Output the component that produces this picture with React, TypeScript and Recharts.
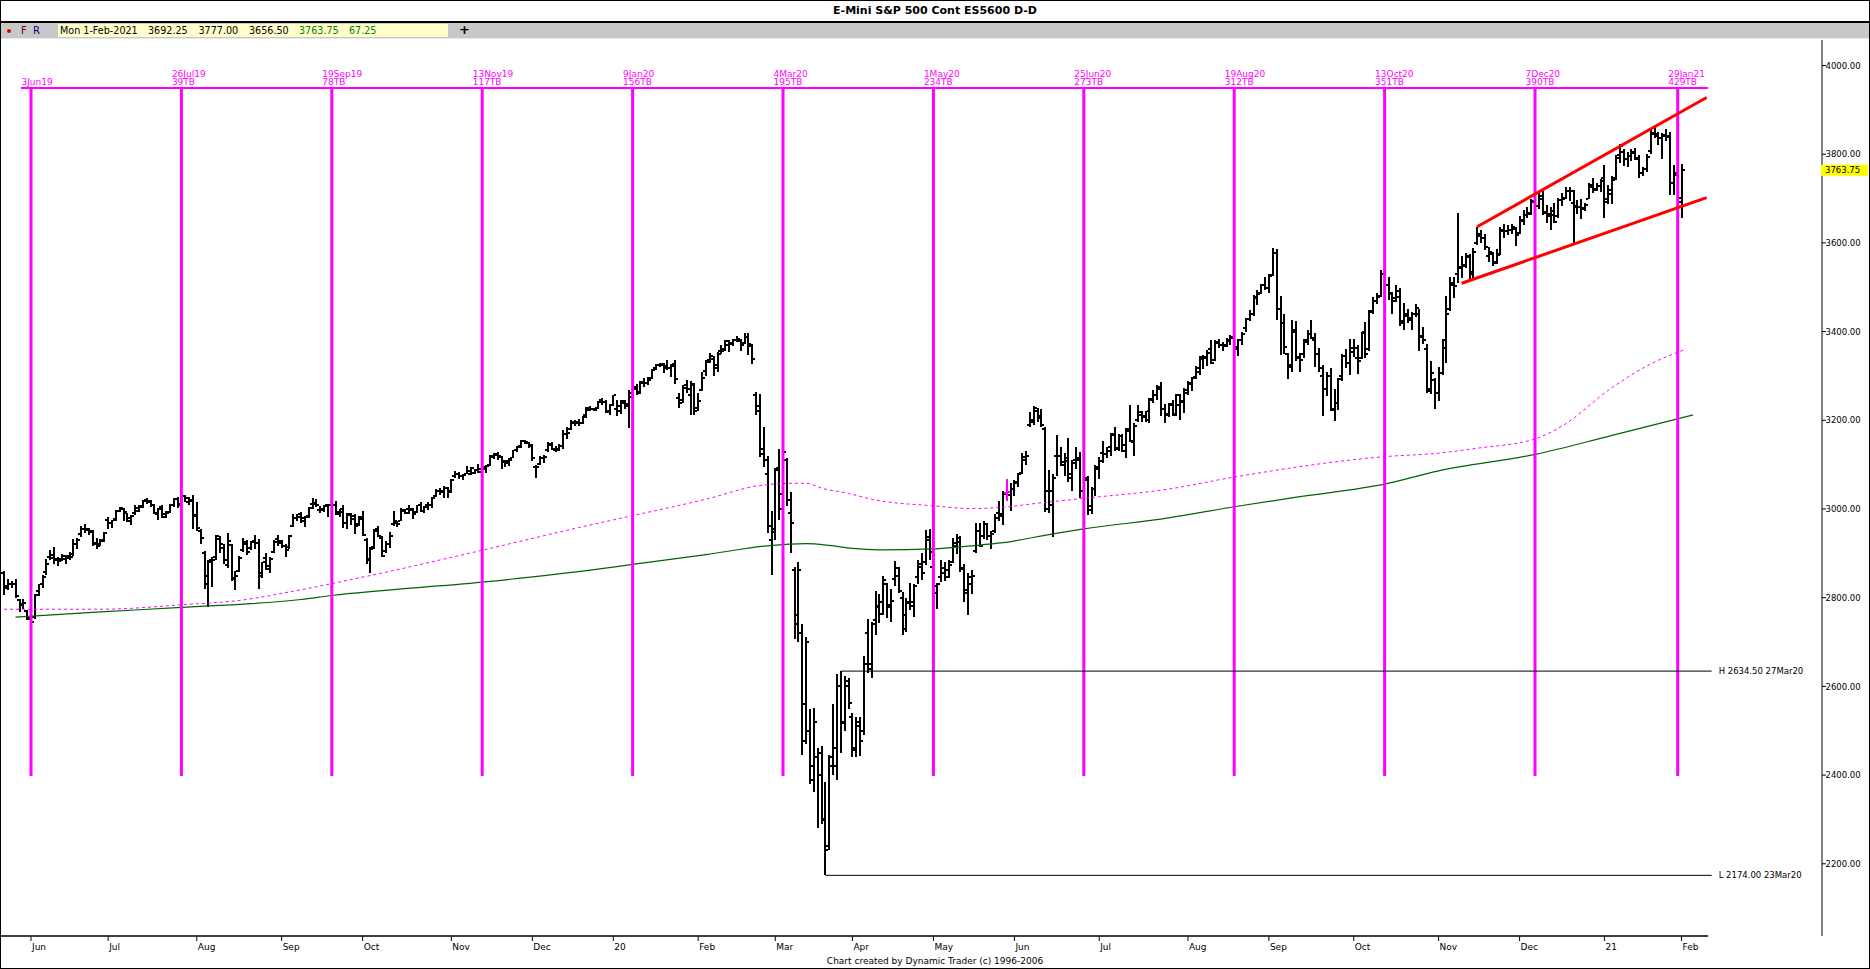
import React from 'react';
import { ComposedChart, Bar, Line, XAxis, YAxis, ReferenceLine, ReferenceDot } from 'recharts';

// ---------- data: daily bars [open, high, low, close] ----------
const FIRST_INDEX = -7;
const may2019 = [[2856,2860,2806,2822],[2826,2842,2818,2830],[2830,2838,2822,2832],[2830,2842,2800,2803],[2795,2798,2768,2784],[2785,2796,2775,2788],[2770,2772,2750,2754]];
const jun2019 = [[2753,2764,2729,2746],[2756,2808,2752,2806],[2815,2832,2804,2830],[2830,2852,2822,2846],[2857,2888,2852,2876],[2892,2908,2884,2890],[2896,2914,2876,2888],[2886,2892,2872,2882],[2888,2898,2882,2894],[2888,2896,2876,2890],[2894,2902,2886,2892],[2898,2932,2894,2920],[2922,2934,2910,2930],[2944,2962,2936,2956],[2954,2966,2946,2952],[2954,2958,2942,2948],[2950,2952,2916,2920],[2924,2934,2910,2916],[2920,2932,2916,2928],[2930,2948,2926,2946]];
const jul2019 = [[2976,2982,2956,2968],[2968,2976,2958,2976],[2978,2998,2974,2996],[2996,3004,2994,3002],[3000,3002,2972,2994],[2990,2992,2970,2980],[2972,2986,2964,2984],[2992,3008,2986,2996],[3002,3008,2994,3004],[3006,3020,3002,3018],[3020,3024,3012,3018],[3016,3020,3004,3008],[3010,3012,2988,2990],[2988,3002,2976,3000],[3004,3010,2980,2982],[2988,2996,2980,2990],[2994,3012,2990,3010],[3008,3024,3004,3022],[3022,3028,3002,3008],[3012,3032,3010,3030],[3030,3032,3016,3024],[3016,3026,3008,3018],[3020,3032,2956,2984]];
const aug2019 = [[2986,3016,2950,2958],[2950,2956,2920,2934],[2900,2906,2820,2848],[2830,2886,2778,2884],[2880,2892,2824,2886],[2892,2942,2886,2940],[2932,2940,2900,2920],[2912,2920,2876,2884],[2874,2946,2866,2928],[2918,2920,2838,2842],[2844,2860,2818,2850],[2860,2894,2858,2890],[2908,2934,2904,2926],[2922,2930,2896,2902],[2912,2928,2908,2926],[2928,2942,2910,2924],[2924,2932,2820,2850],[2856,2880,2844,2880],[2890,2900,2862,2872],[2864,2892,2856,2888],[2904,2930,2900,2926],[2932,2942,2916,2928]];
const sep2019 = [[2924,2930,2912,2916],[2916,2922,2892,2908],[2914,2942,2910,2940],[2962,2988,2960,2980],[2980,2988,2972,2982],[2988,2994,2968,2980],[2974,2984,2960,2982],[2984,3004,2980,3002],[3012,3024,3000,3012],[3014,3022,3004,3010],[2998,3006,2992,3000],[2998,3010,2994,3008],[3006,3012,2982,3008],[3010,3024,3004,3008],[3010,3018,2986,2994],[2988,3000,2982,2994],[3000,3008,2958,2968],[2968,2992,2954,2986],[2988,2990,2964,2978],[2984,2988,2944,2962],[2966,2984,2962,2978]];
const oct2019 = [[2982,2996,2938,2942],[2930,2934,2876,2888],[2886,2914,2856,2910],[2914,2956,2910,2954],[2950,2962,2936,2940],[2934,2940,2892,2894],[2906,2928,2900,2920],[2922,2948,2912,2940],[2966,2996,2962,2972],[2968,2974,2960,2966],[2974,3002,2972,2998],[2996,3000,2988,2992],[3000,3008,2988,3000],[2998,3002,2978,2988],[2994,3010,2992,3008],[3010,3016,2994,2996],[2996,3006,2990,3004],[3008,3016,2998,3010],[3010,3028,3002,3024],[3030,3044,3028,3040],[3040,3048,3032,3038],[3040,3052,3024,3048],[3048,3050,3024,3038]];
const nov2019 = [[3040,3068,3036,3066],[3074,3086,3070,3078],[3078,3084,3068,3074],[3074,3080,3066,3076],[3080,3098,3078,3086],[3080,3094,3076,3092],[3082,3090,3078,3088],[3088,3102,3082,3090],[3084,3098,3078,3094],[3090,3100,3082,3096],[3100,3122,3098,3120],[3118,3126,3112,3122],[3124,3128,3110,3120],[3118,3120,3090,3108],[3106,3110,3094,3104],[3108,3114,3098,3110],[3116,3134,3114,3132],[3134,3142,3128,3140],[3142,3156,3138,3154],[3154,3156,3146,3150],[3148,3152,3138,3142]];
const dec2019 = [[3144,3146,3108,3114],[3094,3100,3070,3094],[3102,3120,3100,3114],[3116,3122,3104,3118],[3132,3150,3128,3146],[3144,3150,3134,3136],[3134,3142,3128,3134],[3136,3146,3130,3142],[3142,3178,3136,3170],[3170,3184,3158,3172],[3180,3200,3178,3194],[3196,3200,3188,3194],[3196,3202,3188,3194],[3194,3210,3192,3208],[3212,3230,3206,3224],[3228,3232,3220,3226],[3226,3228,3220,3224],[3228,3244,3226,3242],[3246,3250,3234,3242],[3242,3246,3216,3222],[3218,3236,3212,3234]];
const jan2020 = [[3234,3258,3232,3256],[3226,3246,3210,3232],[3220,3246,3214,3244],[3240,3246,3226,3236],[3232,3268,3182,3252],[3262,3272,3256,3270],[3276,3282,3256,3262],[3264,3288,3260,3286],[3284,3296,3276,3284],[3284,3298,3280,3290],[3296,3316,3294,3314],[3318,3328,3314,3324],[3324,3330,3320,3326],[3324,3330,3306,3318],[3322,3336,3314,3318],[3318,3328,3298,3322],[3326,3336,3282,3292],[3250,3262,3228,3240],[3246,3280,3240,3272],[3280,3290,3262,3270],[3258,3288,3212,3282],[3280,3284,3212,3222]];
const feb2020 = [[3228,3262,3220,3244],[3268,3308,3266,3296],[3312,3336,3300,3332],[3336,3352,3330,3344],[3338,3346,3300,3324],[3318,3354,3310,3350],[3356,3370,3350,3356],[3360,3380,3356,3378],[3370,3382,3354,3372],[3374,3384,3368,3380],[3380,3390,3376,3384],[3378,3384,3356,3370],[3374,3396,3372,3388],[3388,3397,3348,3372],[3368,3372,3326,3338],[3258,3264,3212,3222],[3232,3260,3118,3124],[3136,3184,3094,3110],[3080,3120,2946,2962],[2930,2996,2852,2948]];
const mar2020 = [[2956,3092,2930,3088],[3092,3136,2976,3000],[3034,3130,3028,3128],[3110,3114,3006,3020],[2990,3038,2900,2968],[2862,2870,2706,2740],[2760,2880,2700,2862],[2720,2740,2446,2478],[2560,2712,2470,2700],[2500,2550,2380,2390],[2420,2552,2362,2520],[2440,2460,2280,2400],[2450,2466,2290,2298],[2300,2384,2174,2230],[2240,2446,2230,2420],[2440,2560,2400,2460],[2420,2628,2390,2600],[2600,2634.5,2450,2520],[2518,2624,2500,2612],[2600,2618,2550,2562]];
const apr2020 = [[2530,2540,2440,2456],[2460,2532,2440,2520],[2510,2530,2444,2476],[2500,2668,2490,2650],[2720,2752,2630,2640],[2650,2746,2620,2740],[2750,2814,2716,2782],[2780,2808,2744,2764],[2790,2848,2760,2840],[2830,2834,2754,2780],[2784,2820,2746,2792],[2842,2882,2826,2866],[2850,2870,2810,2816],[2800,2812,2716,2730],[2760,2800,2722,2788],[2790,2834,2772,2782],[2790,2832,2756,2826],[2846,2884,2830,2870],[2876,2900,2840,2856],[2880,2952,2874,2936],[2930,2956,2886,2904]];
const may2020 = [[2870,2884,2814,2826],[2810,2834,2774,2830],[2846,2886,2836,2856],[2866,2880,2838,2846],[2862,2886,2844,2874],[2880,2934,2878,2924],[2916,2944,2898,2926],[2934,2940,2858,2864],[2866,2876,2790,2818],[2810,2856,2760,2846],[2830,2862,2808,2850],[2906,2968,2900,2950],[2950,2968,2914,2916],[2940,2974,2932,2966],[2966,2968,2930,2940],[2940,2950,2910,2944],[2950,2988,2946,2980],[2990,3018,2972,2984],[2988,3040,2964,3034],[3036,3067,3019,3038],[3032,3058,2996,3046]];
const jun2020 = [[3046,3066,3030,3058],[3060,3082,3050,3078],[3082,3126,3078,3118],[3110,3130,3100,3120],[3190,3218,3184,3200],[3196,3232,3190,3228],[3220,3228,3196,3206],[3210,3226,3186,3190],[3180,3186,2994,3000],[3040,3088,2990,3040],[3010,3080,2936,3070],[3120,3166,3074,3120],[3120,3140,3096,3106],[3100,3126,3074,3108],[3116,3160,3060,3080],[3070,3110,3040,3104],[3110,3140,3090,3116],[3110,3128,3024,3040],[3040,3078,3008,3070],[3066,3074,2986,2998],[3006,3050,2988,3046],[3046,3100,3030,3090]];
const jul2020 = [[3094,3118,3068,3108],[3126,3154,3104,3124],[3124,3140,3114,3130],[3140,3172,3120,3168],[3166,3186,3130,3136],[3138,3168,3130,3164],[3164,3170,3128,3144],[3130,3182,3114,3176],[3180,3234,3150,3154],[3150,3194,3120,3188],[3200,3234,3196,3218],[3212,3222,3196,3208],[3210,3222,3196,3220],[3200,3250,3194,3246],[3248,3268,3240,3256],[3256,3280,3246,3270],[3274,3287,3210,3226],[3226,3236,3194,3212],[3214,3238,3208,3234],[3236,3246,3210,3212],[3214,3260,3210,3256],[3234,3260,3200,3242],[3244,3272,3216,3268]];
const aug2020 = [[3262,3288,3256,3284],[3282,3298,3266,3296],[3298,3322,3292,3318],[3310,3346,3302,3342],[3338,3348,3316,3340],[3342,3358,3322,3352],[3360,3380,3326,3330],[3336,3382,3334,3376],[3374,3384,3362,3370],[3370,3376,3356,3368],[3370,3386,3366,3378],[3380,3392,3370,3386],[3388,3394,3352,3366],[3360,3384,3344,3380],[3380,3398,3370,3394],[3408,3430,3398,3428],[3428,3448,3424,3440],[3440,3482,3436,3476],[3478,3494,3460,3484],[3486,3508,3484,3504],[3504,3522,3494,3498]];
const sep2020 = [[3498,3530,3488,3526],[3528,3588,3526,3578],[3578,3586,3426,3450],[3450,3480,3348,3420],[3420,3440,3350,3366],[3350,3352,3294,3320],[3324,3426,3310,3400],[3404,3424,3334,3340],[3342,3352,3310,3336],[3350,3384,3340,3376],[3380,3404,3370,3394],[3394,3426,3384,3386],[3380,3396,3320,3350],[3350,3362,3310,3318],[3300,3324,3210,3270],[3270,3308,3254,3300],[3300,3318,3222,3226],[3224,3270,3198,3240],[3240,3296,3224,3292],[3300,3350,3288,3344],[3344,3360,3318,3330],[3330,3384,3302,3354]];
const oct2020 = [[3364,3384,3342,3364],[3340,3370,3304,3334],[3340,3400,3338,3396],[3400,3422,3340,3350],[3360,3448,3356,3444],[3446,3478,3440,3470],[3470,3486,3462,3478],[3480,3540,3478,3530],[3530,3536,3490,3506],[3506,3524,3472,3486],[3484,3490,3440,3468],[3476,3506,3466,3478],[3492,3498,3412,3420],[3424,3464,3404,3436],[3440,3452,3420,3430],[3426,3444,3404,3440],[3440,3462,3432,3454],[3440,3450,3356,3388],[3390,3410,3372,3380],[3360,3372,3262,3266],[3270,3334,3260,3306],[3290,3296,3226,3262]];
const nov2020 = [[3262,3320,3244,3306],[3306,3384,3302,3364],[3380,3480,3330,3440],[3452,3524,3446,3510],[3506,3524,3476,3502],[3530,3668,3510,3546],[3544,3570,3520,3548],[3550,3578,3544,3570],[3568,3574,3516,3530],[3534,3588,3516,3580],[3600,3636,3596,3620],[3616,3628,3600,3612],[3612,3620,3584,3590],[3570,3590,3556,3580],[3576,3580,3548,3554],[3558,3586,3552,3572],[3576,3636,3572,3626],[3628,3642,3612,3626],[3626,3640,3618,3630],[3630,3642,3620,3636],[3632,3636,3592,3618]];
const dec2020 = [[3622,3660,3620,3652],[3650,3674,3640,3664],[3664,3682,3656,3666],[3668,3698,3662,3694],[3692,3712,3676,3684],[3684,3718,3676,3700],[3706,3716,3662,3670],[3668,3686,3644,3666],[3660,3682,3630,3664],[3672,3690,3644,3648],[3660,3702,3656,3696],[3696,3712,3684,3698],[3702,3726,3700,3718],[3718,3726,3694,3716],[3690,3720,3596,3682],[3684,3696,3666,3680],[3680,3700,3654,3676],[3678,3690,3672,3686],[3700,3734,3698,3726],[3730,3746,3712,3720],[3722,3734,3716,3728],[3728,3744,3714,3740]];
const jan2021 = [[3746,3776,3656,3692],[3698,3730,3688,3720],[3710,3750,3688,3742],[3746,3798,3742,3792],[3798,3824,3780,3818],[3806,3812,3774,3790],[3790,3806,3772,3796],[3796,3812,3784,3802],[3804,3814,3786,3792],[3790,3798,3746,3758],[3758,3772,3750,3766],[3766,3800,3760,3794],[3808,3854,3800,3846],[3848,3862,3836,3846],[3840,3850,3820,3836],[3836,3848,3790,3840],[3844,3856,3830,3838],[3840,3850,3708,3734],[3736,3776,3708,3758],[3752,3774,3690,3702]];
const feb2021 = [[3692.25,3777,3656.5,3763.75]];
const MONTHS = [may2019, jun2019, jul2019, aug2019, sep2019, oct2019, nov2019, dec2019, jan2020, feb2020, mar2020, apr2020, may2020, jun2020, jul2020, aug2020, sep2020, oct2020, nov2020, dec2020, jan2021, feb2021];
const HIGHLIGHT_INDEX = 253;
const LAST_CLOSE = 3763.75;

// moving averages [bar index, value]
const slowMa = [[-4,2756],[18,2768],[39,2778],[70,2796],[78,2805],[117,2835],[145,2862],[156,2875],[175,2897],[191,2917],[201,2922],[207,2918],[213,2911],[220,2908],[234,2910],[244,2917],[252,2924],[265,2944],[273,2955],[295,2980],[312,3005],[330,3029],[351,3056],[365,3086],[390,3123],[410,3166],[431,3212]];
const fastMa = [[-7,2774],[18,2774],[39,2784],[55,2795],[67,2813],[88,2850],[117,2907],[142,2958],[156,2985],[175,3022],[189,3053],[198,3058],[201,3058],[205,3047],[212,3035],[218,3022],[234,3007],[244,3001],[252,3004],[261,3013],[273,3024],[295,3045],[312,3072],[351,3118],[365,3126],[375,3137],[390,3158],[397,3187],[410,3274],[420,3327],[429,3360]];

// time-cycle markers
const cycleIndex = [0, 39, 78, 117, 156, 195, 234, 273, 312, 351, 390, 427];
const cycleDate = ['3Jun19','26Jul19','19Sep19','13Nov19','9Jan20','4Mar20','1May20','25Jun20','19Aug20','13Oct20','7Dec20','29Jan21'];
const cycleCount = ['','39TB','78TB','117TB','156TB','195TB','234TB','273TB','312TB','351TB','390TB','429TB'];
const CYCLE_TOP = 3949.3;
const CYCLE_BOTTOM = 2398;
const CYCLE_LINE_START = -2.6;

// channel lines [index, price]
const channelUpper = [[375.0, 3636.5], [434.5, 3928]];
const channelLower = [[371.0, 3509], [434.5, 3702]];

// swing high / low
const swingHigh = { i: 210, p: 2634.5, label: 'H 2634.50 27Mar20' };
const swingLow = { i: 206, p: 2174, label: 'L 2174.00 23Mar20' };
const SWING_END = 435.8;

// axes
const monthTicks = [0, 20, 43, 65, 86, 109, 130, 151, 173, 193, 213, 234, 255, 277, 300, 321, 343, 365, 386, 408, 428];
const monthLabels = ['Jun','Jul','Aug','Sep','Oct','Nov','Dec','20','Feb','Mar','Apr','May','Jun','Jul','Aug','Sep','Oct','Nov','Dec','21','Feb'];
const priceTicks = [2200, 2400, 2600, 2800, 3000, 3200, 3400, 3600, 3800, 4000];
const X_MIN = -7.779;
const X_MAX = 464.42;
const Y_MIN = 2037.2;
const Y_MAX = 4057.5;
const X_AXIS_END = 434.9;

const TITLE = 'E-Mini S&P 500 Cont ES5600 D-D';
const INFO_DATE = 'Mon 1-Feb-2021';
const INFO_OHL = ['3692.25', '3777.00', '3656.50'];
const INFO_CHG = ['3763.75', '67.25'];
const CAPTION = 'Chart created by Dynamic Trader  (c) 1996-2006';

// ---------- derived tables ----------
const barRows: any[] = [];
{
  let k = FIRST_INDEX;
  for (const m of MONTHS) {
    for (const b of m) {
      barRows.push({ i: k, o: b[0], h: b[1], l: b[2], c: b[3], range: [b[2], b[1]] });
      k++;
    }
  }
}
const slowRows = slowMa.map(([i, v]) => ({ i, v }));
const fastRows = fastMa.map(([i, v]) => ({ i, v }));

const FONT = '"DejaVu Sans", Verdana, sans-serif';
const MAGENTA = '#ff00ff';

function OhlcShape(props: any) {
  const { x, y, width, height, payload } = props;
  if (!payload || !isFinite(x) || !isFinite(y) || !isFinite(height)) return null;
  const cx = Math.round(x + (isFinite(width) ? width : 0) / 2);
  const topRaw = Math.min(y, y + height);
  const span = Math.abs(height);
  const hi = payload.h;
  const lo = payload.l;
  const py = (p: number) => Math.round(topRaw + ((hi - p) / (hi - lo || 1)) * span);
  const top = Math.round(topRaw);
  const bottom = Math.round(topRaw + span);
  const color = payload.i === HIGHLIGHT_INDEX ? MAGENTA : '#000';
  return (
    <g fill={color} shapeRendering="crispEdges">
      <rect x={cx - 1} y={top} width={2} height={Math.max(bottom - top, 1)} />
      <rect x={cx - 3} y={py(payload.o) - 1} width={2} height={2} />
      <rect x={cx + 1} y={py(payload.c) - 1} width={2} height={2} />
    </g>
  );
}

function MonthTick(props: any) {
  const { x, y, payload } = props;
  const k = monthTicks.indexOf(payload.value);
  return (
    <g>
      <line x1={x} y1={y + 0.5} x2={x} y2={y + 5} stroke="#000" strokeWidth={1} />
      <text x={x + 1} y={y + 13.5} fontSize={9} fontFamily={FONT} fill="#000">{k >= 0 ? monthLabels[k] : ''}</text>
    </g>
  );
}

function PriceTick(props: any) {
  const { x, y, payload } = props;
  const v = Number(payload.value);
  if (v === LAST_CLOSE) {
    return (
      <g>
        <rect x={x - 1} y={y - 5.5} width={47} height={11} fill="#ffff00" />
        <text x={x + 3} y={y + 3.2} fontSize={8.5} fontFamily={FONT} fill="#000">{v.toFixed(2)}</text>
      </g>
    );
  }
  return (
    <g>
      <line x1={x} y1={y} x2={x + 4} y2={y} stroke="#000" strokeWidth={1} />
      <text x={x + 3.5} y={y + 3.2} fontSize={8.5} fontFamily={FONT} fill="#000">{v.toFixed(2)}</text>
    </g>
  );
}

function cycleLabel(k: number) {
  return (p: any) => {
    const vb = p.viewBox || {};
    const x = vb.x - 9.5;
    const y = vb.y;
    return (
      <g fontFamily={FONT} fontSize={9} fill={MAGENTA}>
        {cycleCount[k] ? <text x={x} y={y - 11}>{cycleDate[k]}</text> : null}
        <text x={x} y={y - 3}>{cycleCount[k] || cycleDate[k]}</text>
      </g>
    );
  };
}

function swingLabel(text: string) {
  return (p: any) => {
    const vb = p.viewBox || {};
    return (
      <text x={vb.x + 7} y={vb.y + 3} fontFamily={FONT} fontSize={8.5} fill="#000">{text}</text>
    );
  };
}

export default function App() {
  return (
    <div style={{ position: 'absolute', left: 0, top: 0, width: 1870, height: 969, background: '#fff', fontFamily: FONT, overflow: 'hidden' }}>
      {/* title bar */}
      <div style={{ position: 'absolute', left: 0, top: 0, width: 1870, height: 21, borderBottom: '2px solid #000', textAlign: 'center', fontWeight: 'bold', fontSize: 11, lineHeight: '21px', color: '#000' }}>{TITLE}</div>
      {/* toolbar */}
      <div style={{ position: 'absolute', left: 0, top: 23, width: 1870, height: 15, background: '#c8c8c8', borderBottom: '1px solid #e8e8e8' }}>
        <div style={{ position: 'absolute', left: 7, top: 6, width: 4, height: 4, borderRadius: 2, background: '#e00000' }} />
        <div style={{ position: 'absolute', left: 21, top: 1, fontSize: 10, lineHeight: '13px', color: '#800000' }}>F</div>
        <div style={{ position: 'absolute', left: 33, top: 1, fontSize: 10, lineHeight: '13px', color: '#000080' }}>R</div>
        <div style={{ position: 'absolute', left: 58, top: 1, width: 390, height: 13, background: '#ffffcc' }}>
          <span style={{ position: 'absolute', left: 2, top: 0, fontSize: 9.6, lineHeight: '13px', color: '#000', whiteSpace: 'nowrap' }}>{INFO_DATE}</span>
          <span style={{ position: 'absolute', left: 90, top: 0, fontSize: 9.6, lineHeight: '13px', color: '#000' }}>{INFO_OHL[0]}</span>
          <span style={{ position: 'absolute', left: 140.5, top: 0, fontSize: 9.6, lineHeight: '13px', color: '#000' }}>{INFO_OHL[1]}</span>
          <span style={{ position: 'absolute', left: 191, top: 0, fontSize: 9.6, lineHeight: '13px', color: '#000' }}>{INFO_OHL[2]}</span>
          <span style={{ position: 'absolute', left: 241, top: 0, fontSize: 9.6, lineHeight: '13px', color: '#008000' }}>{INFO_CHG[0]}</span>
          <span style={{ position: 'absolute', left: 291, top: 0, fontSize: 9.6, lineHeight: '13px', color: '#008000' }}>{INFO_CHG[1]}</span>
        </div>
        <div style={{ position: 'absolute', left: 459, top: -1, fontSize: 13, fontWeight: 'bold', lineHeight: '15px', color: '#000' }}>+</div>
      </div>
      {/* chart */}
      <div style={{ position: 'absolute', left: 0, top: 39, width: 1870, height: 930 }}>
        <ComposedChart width={1870} height={930} data={barRows} margin={{ top: 1, right: 0, bottom: 0, left: 1 }}>
          <XAxis dataKey="i" type="number" domain={[X_MIN, X_MAX]} allowDataOverflow ticks={monthTicks} interval={0}
            axisLine={false} tickLine={false} tickSize={0} tickMargin={0} height={33} tick={(p: any) => <MonthTick {...p} />} />
          <YAxis orientation="right" type="number" domain={[Y_MIN, Y_MAX]} allowDataOverflow width={48}
            ticks={[...priceTicks, LAST_CLOSE]} interval={0} axisLine={{ stroke: '#000', strokeWidth: 1 }} tickLine={false}
            tickSize={0} tickMargin={0} tick={(p: any) => <PriceTick {...p} />} />
          <Line data={slowRows} dataKey="v" type="monotone" stroke="#006400" strokeWidth={1.2} dot={false} activeDot={false} isAnimationActive={false} />
          <Line data={fastRows} dataKey="v" type="monotone" stroke={MAGENTA} strokeWidth={1} strokeDasharray="3 3" dot={false} activeDot={false} isAnimationActive={false} />
          <Bar dataKey="range" barSize={2} shape={(p: any) => <OhlcShape {...p} />} isAnimationActive={false} />
          {cycleIndex.map((ci) => (
            <ReferenceLine key={'c' + ci} segment={[{ x: ci, y: CYCLE_BOTTOM }, { x: ci, y: CYCLE_TOP }]} stroke={MAGENTA} strokeWidth={3} ifOverflow="visible" />
          ))}
          <ReferenceLine segment={[{ x: CYCLE_LINE_START, y: CYCLE_TOP }, { x: X_AXIS_END, y: CYCLE_TOP }]} stroke={MAGENTA} strokeWidth={2} ifOverflow="visible" />
          {cycleIndex.map((ci, k) => (
            <ReferenceDot key={'d' + ci} x={ci} y={CYCLE_TOP} r={0} fill="none" stroke="none" ifOverflow="visible" label={cycleLabel(k)} />
          ))}
          <ReferenceLine segment={[{ x: swingHigh.i, y: swingHigh.p }, { x: SWING_END, y: swingHigh.p }]} stroke="#000" strokeWidth={1} ifOverflow="visible" />
          <ReferenceLine segment={[{ x: swingLow.i, y: swingLow.p }, { x: SWING_END, y: swingLow.p }]} stroke="#000" strokeWidth={1} ifOverflow="visible" />
          <ReferenceDot x={SWING_END} y={swingHigh.p} r={0} fill="none" stroke="none" ifOverflow="visible" label={swingLabel(swingHigh.label)} />
          <ReferenceDot x={SWING_END} y={swingLow.p} r={0} fill="none" stroke="none" ifOverflow="visible" label={swingLabel(swingLow.label)} />
          <ReferenceLine segment={[{ x: channelUpper[0][0], y: channelUpper[0][1] }, { x: channelUpper[1][0], y: channelUpper[1][1] }]} stroke="#ff0000" strokeWidth={3} ifOverflow="visible" />
          <ReferenceLine segment={[{ x: channelLower[0][0], y: channelLower[0][1] }, { x: channelLower[1][0], y: channelLower[1][1] }]} stroke="#ff0000" strokeWidth={3} ifOverflow="visible" />
          <ReferenceLine segment={[{ x: X_MIN, y: Y_MIN }, { x: X_AXIS_END, y: Y_MIN }]} stroke="#000" strokeWidth={1.5} ifOverflow="visible" />
        </ComposedChart>
      </div>
      {/* caption */}
      <div style={{ position: 'absolute', left: 0, top: 956, width: 1870, textAlign: 'center', fontSize: 9, lineHeight: '11px', color: '#000' }}>{CAPTION}</div>
      {/* outer frame */}
      <div style={{ position: 'absolute', left: 0, top: 0, width: 1870, height: 969, boxSizing: 'border-box', border: '1px solid #000', pointerEvents: 'none' }} />
    </div>
  );
}
